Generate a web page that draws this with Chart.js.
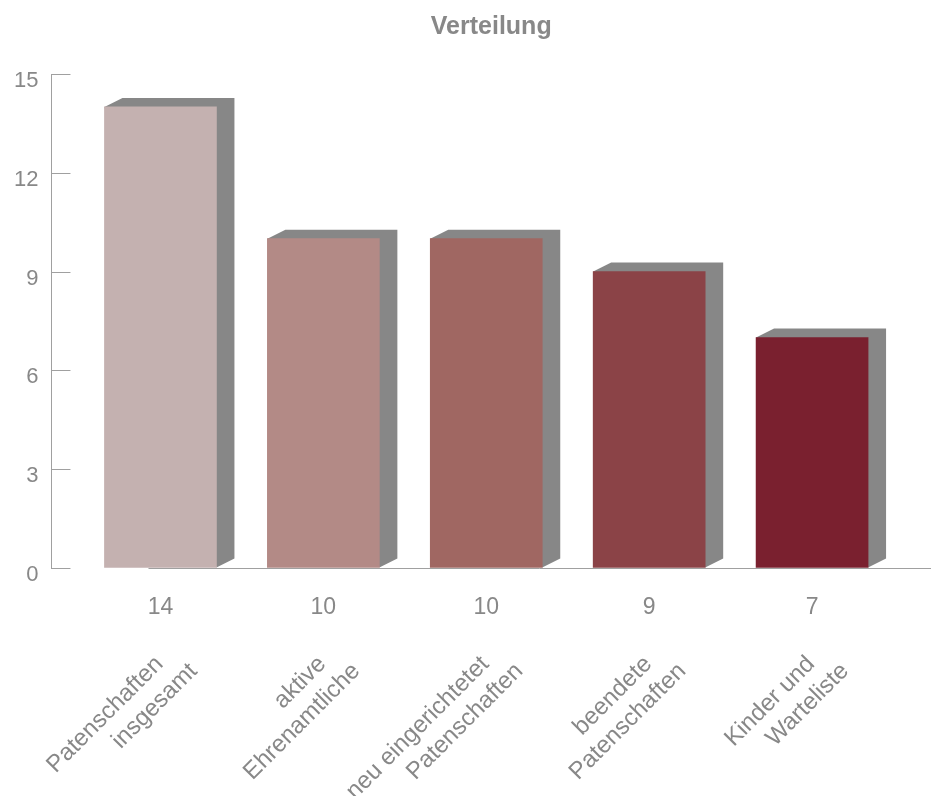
<!DOCTYPE html>
<html>
<head>
<meta charset="utf-8">
<title>Verteilung</title>
<script src="https://cdn.jsdelivr.net/npm/chart.js@4"></script>
<style>
  html, body { margin: 0; padding: 0; background: #fff; }
  #wrap { width: 931px; height: 796px; }
</style>
</head>
<body>
<div id="wrap"><canvas id="chartVerteilung"></canvas></div>
<script>
// Settings
const chartTitle = "Verteilung";
const categories = [
  ["Patenschaften", "insgesamt"],
  ["aktive", "Ehrenamtliche"],
  ["neu eingerichtetet", "Patenschaften"],
  ["beendete", "Patenschaften"],
  ["Kinder und", "Warteliste"],
];
const values = [14, 10, 10, 9, 7];
const barColors = ["#c4b1b0", "#b38a86", "#a06762", "#8b4347", "#7a202f"];
const yTicks = [0, 3, 6, 9, 12, 15];

const textColor = "#888888";
const axisColor = "#a0a0a0";
const sideColor = "#878787";
const depthX = 18; // 3d offset of the bar back faces
const depthY = 9;
const valueFont = "23px 'Liberation Sans', Arial, sans-serif";
const nameFont = "24px 'Liberation Sans', Arial, sans-serif";

Chart.defaults.font.family = "'Liberation Sans', Arial, Helvetica, sans-serif";
Chart.defaults.color = textColor;

// grey side + top faces behind each bar, axis baseline and inner y ticks
const boxFaces = {
  id: "boxFaces",
  beforeDatasetsDraw(chart) {
    const ctx = chart.ctx;
    const area = chart.chartArea;
    const yScale = chart.scales.y;
    ctx.save();

    ctx.strokeStyle = axisColor;
    ctx.lineWidth = 1;
    ctx.beginPath();
    ctx.moveTo(area.left + 97, Math.round(area.bottom) + 0.5);
    ctx.lineTo(area.right, Math.round(area.bottom) + 0.5);
    yScale.ticks.forEach((t) => {
      const py = Math.round(yScale.getPixelForValue(t.value)) + 0.5;
      ctx.moveTo(area.left, py);
      ctx.lineTo(area.left + 19, py);
    });
    ctx.stroke();

    ctx.fillStyle = sideColor;
    chart.getDatasetMeta(0).data.forEach((bar) => {
      const p = bar.getProps(["x", "y", "base", "width"], true);
      const l = p.x - p.width / 2;
      const r = p.x + p.width / 2;
      ctx.beginPath();
      ctx.moveTo(l, p.y);
      ctx.lineTo(l + depthX, p.y - depthY);
      ctx.lineTo(r + depthX, p.y - depthY);
      ctx.lineTo(r + depthX, p.base - depthY);
      ctx.lineTo(r, p.base);
      ctx.closePath();
      ctx.fill();
    });
    ctx.restore();
  },
  afterDraw(chart) {
    const ctx = chart.ctx;
    ctx.save();
    ctx.fillStyle = textColor;
    chart.getDatasetMeta(0).data.forEach((bar, i) => {
      const p = bar.getProps(["x", "base"], true);

      // value under the bar
      ctx.font = valueFont;
      ctx.textAlign = "center";
      ctx.textBaseline = "middle";
      ctx.fillText(String(values[i]), p.x, p.base + 40);

      // rotated category name, one line at a time
      ctx.font = nameFont;
      ctx.textAlign = "right";
      categories[i].forEach((line, k) => {
        ctx.save();
        ctx.translate(p.x - 1 + 34 * k, p.base + 93 + 7 * k);
        ctx.rotate(-Math.PI / 4);
        ctx.fillText(line, 0, 0);
        ctx.restore();
      });
    });
    ctx.restore();
  },
};

const ctx = document.getElementById("chartVerteilung").getContext("2d");
new Chart(ctx, {
  type: "bar",
  data: {
    datasets: [
      {
        label: chartTitle,
        data: values.map((v, i) => ({ x: i, y: v })),
        backgroundColor: barColors,
        borderWidth: 0,
        barThickness: 112,
      },
    ],
  },
  options: {
    responsive: true,
    maintainAspectRatio: false,
    animation: false,
    layout: {
      padding: { left: 1, right: 0, top: 0, bottom: 228 },
    },
    plugins: {
      legend: { display: false },
      tooltip: { enabled: false },
      title: {
        display: true,
        text: chartTitle,
        fullSize: false,
        color: textColor,
        font: { size: 25, weight: "bold" },
        padding: { top: 12, bottom: 32 },
      },
    },
    scales: {
      x: {
        type: "linear",
        offset: false,
        min: -0.669,
        max: 4.73,
        display: false,
      },
      y: {
        min: 0,
        max: 15,
        afterBuildTicks: (scale) => {
          scale.ticks = yTicks.map((v) => ({ value: v }));
        },
        ticks: {
          font: { size: 22 },
          color: textColor,
          padding: 13,
          labelOffset: 7,
        },
        grid: { drawOnChartArea: false, drawTicks: false },
        border: { color: axisColor, width: 1 },
      },
    },
  },
  plugins: [boxFaces],
});
</script>
</body>
</html>
